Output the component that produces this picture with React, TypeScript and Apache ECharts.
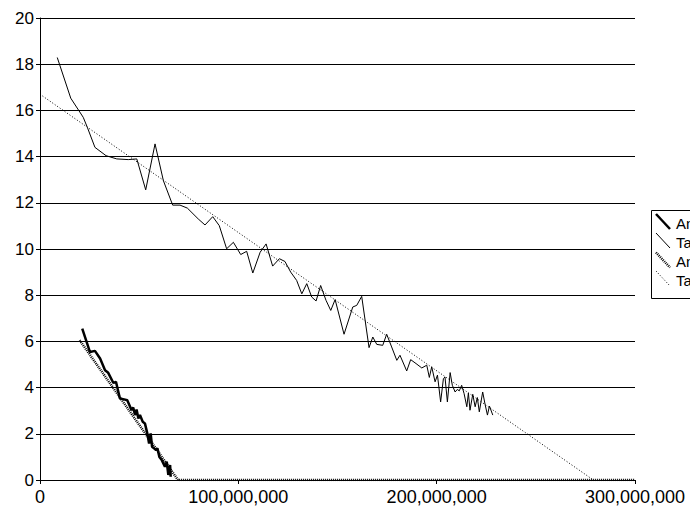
import React, { useEffect, useRef } from "react";
import * as echarts from "echarts";

// x values in millions
const taX = [8.7, 15.5, 21.8, 23.9, 27.7, 33.3, 38.7, 44.5, 48.8, 53.3, 58, 62.2, 66.9, 70.6, 74.3, 79.8, 83.2, 87.1, 90.4, 94.1, 97.5, 101.2, 104.2, 107.3, 111, 114, 117.3, 120.7, 123.5, 126.4, 129.4, 132, 134.5, 137, 139.2, 141.5, 144.2, 146.6, 148.8, 153.3, 157.7, 159.7, 162.2, 165.9, 167.8, 169.8, 172.8, 174.8, 177.3, 179.9, 181.5, 184.9, 186.9, 189.6, 192.5, 195, 196.3, 197.5, 199.2, 200.4, 202, 203.4, 204.2, 205.4, 206.8, 207.9, 209.3, 210.4, 211.4, 212.6, 213.8, 215.2, 216, 216.8, 218.2, 219.4, 220.5, 221.5, 223.2, 224.4, 225.6, 226.6, 228.3];
const taY = [18.29, 16.53, 15.7, 15.26, 14.4, 14.04, 13.9, 13.87, 13.9, 12.56, 14.55, 12.96, 11.9, 11.9, 11.77, 11.3, 11.04, 11.4, 11.01, 10.01, 10.29, 9.76, 9.9, 8.96, 9.86, 10.22, 9.26, 9.58, 9.46, 9.0, 8.64, 8.06, 8.5, 7.92, 7.75, 8.42, 7.78, 7.34, 7.81, 6.31, 7.49, 7.56, 7.95, 5.73, 6.19, 5.87, 5.83, 6.31, 5.76, 5.18, 5.4, 4.72, 5.21, 5.04, 4.85, 4.97, 4.44, 4.9, 4.25, 4.54, 3.38, 4.39, 4.46, 3.38, 4.65, 4.1, 3.81, 3.92, 3.86, 4.1, 3.75, 3.17, 3.77, 3.02, 3.71, 3.17, 3.57, 2.95, 3.81, 3.28, 2.81, 3.2, 2.81];

const anX = [21.3, 25.2, 27.7, 30.3, 32.8, 34.4, 37, 38.3, 40.3, 42.4, 44, 46.2, 47, 47.9, 48.7, 49.6, 50.4, 51.8, 52.9, 54.1, 55, 55.8, 56.5, 57.5, 58.5, 59.2, 60.2, 61.4, 62.2, 63, 63.9, 64.7, 65.6, 65.9];
const anY = [6.55, 5.54, 5.59, 5.26, 4.75, 4.64, 4.2, 4.25, 3.53, 3.49, 3.45, 3.02, 3.14, 2.81, 3.05, 2.66, 2.81, 2.52, 2.45, 2.02, 1.58, 2.02, 1.44, 1.37, 1.3, 1.37, 1.0, 0.86, 0.72, 0.57, 0.79, 0.22, 0.65, 0.14];

const anTrendX = [20, 69.6, 300];
const anTrendY = [6.05, 0, 0];
const taTrendX = [0, 279];
const taTrendY = [16.7, 0];

const legendNames = ["An", "Ta", "An", "Ta"];
const xTicks = [0, 100, 200, 300];

const zip = (xs: number[], ys: number[]) => xs.map((x, i) => [x, ys[i]]);
const fmt = (v: number) => (v === 0 ? "0" : Math.round(v * 1e6).toLocaleString("en-US"));

export default function App() {
  const ref = useRef<HTMLDivElement>(null);
  useEffect(() => {
    const chart = echarts.init(ref.current!, null, { renderer: "svg" });
    const font = "'Liberation Sans', Arial, sans-serif";
    const legendStyles = [
      { lineWidth: 2.5, lineDash: null as any },
      { lineWidth: 1, lineDash: null as any },
      { lineWidth: 2.5, lineDash: [1, 1] },
      { lineWidth: 1, lineDash: [1, 2] },
    ];
    const itemY = [223, 242, 261.5, 280];
    const legendChildren: any[] = [
      {
        type: "rect",
        shape: { x: 651.5, y: 210.5, width: 80, height: 88 },
        style: { fill: "#fff", stroke: "#000", lineWidth: 1 },
      },
    ];
    legendNames.forEach((n, i) => {
      legendChildren.push({
        type: "line",
        shape: { x1: 656, y1: itemY[i] - 9, x2: 670, y2: itemY[i] + 6 },
        style: { stroke: "#000", lineWidth: legendStyles[i].lineWidth, lineDash: legendStyles[i].lineDash },
      });
      legendChildren.push({
        type: "text",
        x: 676,
        y: itemY[i],
        style: { text: n, fill: "#000", font: `15px ${font}`, textVerticalAlign: "middle", textAlign: "left" },
      });
    });
    chart.setOption({
      animation: false,
      backgroundColor: "#fff",
      grid: { left: 40, right: 55, top: 18, bottom: 31, containLabel: false },
      xAxis: {
        type: "value",
        min: 0,
        max: 300,
        interval: 100,
        axisLine: { show: true, lineStyle: { color: "#000", width: 1 } },
        axisTick: { show: true, length: 4, lineStyle: { color: "#000" } },
        axisLabel: { color: "#000", fontSize: 18, fontFamily: font, margin: 8, formatter: (v: number) => (xTicks.includes(v) ? fmt(v) : "") },
        splitLine: { show: false },
      },
      yAxis: {
        type: "value",
        min: 0,
        max: 20,
        interval: 2,
        axisLine: { show: true, lineStyle: { color: "#000", width: 1 } },
        axisTick: { show: true, length: 4, lineStyle: { color: "#000" } },
        axisLabel: { color: "#000", fontSize: 17, fontFamily: font, margin: 6 },
        splitLine: { show: true, lineStyle: { color: "#000", width: 1 } },
      },
      series: [
        {
          name: "Ta trend",
          type: "line",
          data: zip(taTrendX, taTrendY),
          symbol: "none",
          lineStyle: { color: "#000", width: 1, type: [1, 2] },
          z: 2,
        },
        {
          name: "Ta",
          type: "line",
          data: zip(taX, taY),
          symbol: "none",
          lineStyle: { color: "#000", width: 1 },
          z: 3,
        },
        {
          name: "An trend",
          type: "line",
          data: zip(anTrendX, anTrendY),
          symbol: "none",
          lineStyle: { color: "#000", width: 2.5, type: [1, 1] },
          z: 4,
        },
        {
          name: "An",
          type: "line",
          data: zip(anX, anY),
          symbol: "none",
          lineStyle: { color: "#000", width: 2.5 },
          z: 5,
        },
      ],
      graphic: legendChildren,
    });
    return () => chart.dispose();
  }, []);
  return <div ref={ref} style={{ position: "absolute", left: 0, top: 0, width: 690, height: 511 }} />;
}
